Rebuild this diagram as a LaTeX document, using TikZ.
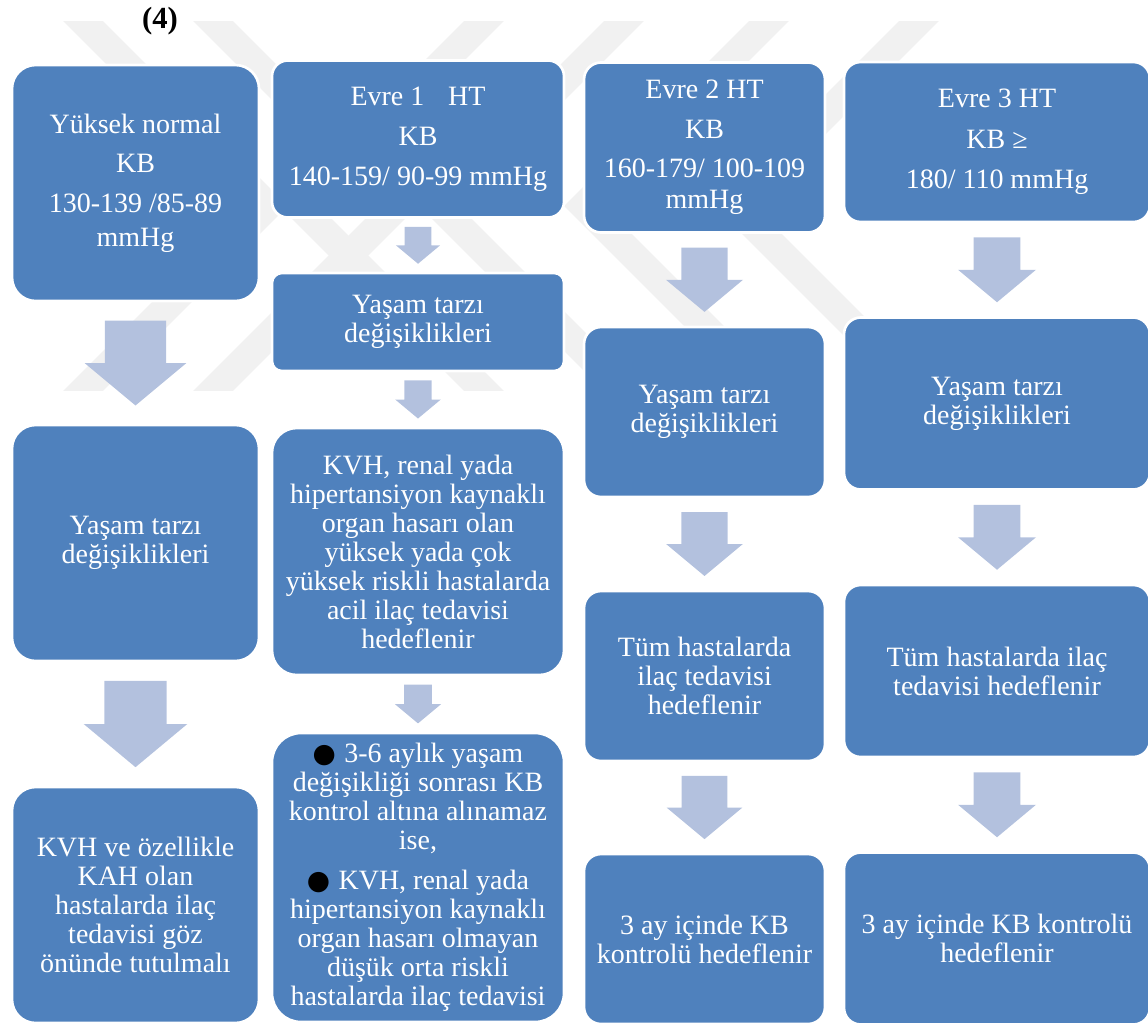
\documentclass[tikz,border=0pt]{standalone}
\usepackage{fontspec}
\setmainfont{Liberation Serif}
\newfontfamily\bulletfont{DejaVu Sans}
\usetikzlibrary{calc}

\definecolor{boxblue}{RGB}{79,129,189}
\definecolor{arrowblue}{RGB}{179,193,222}
\definecolor{markgray}{RGB}{241,241,241}

\tikzset{
  box/.style={fill=boxblue, draw=white, line width=2pt, text=white,
    align=center, inner sep=0pt, font=\fontsize{21}{21.75}\selectfont},
  colA/.style={box, minimum width=185.25pt, minimum height=177pt, rounded corners=17.7pt},
  colB/.style={box, minimum width=219pt},
  colC/.style={box, minimum width=180.75pt, minimum height=127.5pt, rounded corners=12.75pt},
  colD/.style={box, minimum width=229.5pt, minimum height=129pt, rounded corners=12.5pt},
  watermark/.style={draw=markgray, line width=21pt, miter limit=20},
}

% block arrow between two boxes of one column
\newcommand{\blockdown}[2]{%
  \fill[arrowblue] let \p1=(#1.south), \p2=(#2.north),
    \n1={\y1-\y2}, \n2={0.7*\n1} in
    (\x1-0.36*\n2,\y1-0.15*\n1) -- (\x1+0.36*\n2,\y1-0.15*\n1)
    -- (\x1+0.36*\n2,\y1-0.15*\n1-0.5*\n2) -- (\x1+0.6*\n2,\y1-0.15*\n1-0.5*\n2)
    -- (\x1,\y1-0.85*\n1) -- (\x1-0.6*\n2,\y1-0.15*\n1-0.5*\n2)
    -- (\x1-0.36*\n2,\y1-0.15*\n1-0.5*\n2) -- cycle;}

\newcommand{\blt}{{\color{black}\bulletfont\fontsize{20}{20}\selectfont ●}\hspace{0.3em}}

\begin{document}
\begin{tikzpicture}[x=0.75pt, y=-0.75pt]
\useasboundingbox (0,0) rectangle (1148,1022);

% faint watermark behind the chart
\begin{scope}
  \clip (0,21) rectangle (1148,390);
  \foreach \xa in {62,192}
    \draw[watermark] (\xa,0) -- (\xa+206,206) -- (\xa,412);
  \foreach \xa in {505,645,790,940}
    \draw[watermark] (\xa,0) -- (\xa-206,206) -- (\xa,412);
\end{scope}

\node[font=\bfseries\fontsize{23}{26}\selectfont] (baslik) at (160,21) {(4)};

% Yuksek normal
\node[colA, font=\fontsize{21}{25.5}\selectfont] (hn) at (135.5,183)
  {Yüksek normal\\[4pt] KB\\[4pt] 130-139 /85-89\\ mmHg};
\node[colA] (hnYasam) at (135.5,543) {Yaşam tarzı\\ değişiklikleri};
\node[colA] (hnIlac) at (135.5,905)
  {KVH ve özellikle\\ KAH olan\\ hastalarda ilaç\\ tedavisi göz\\ önünde tutulmalı};

% Evre 1
\node[colB, minimum height=117.75pt, rounded corners=11.8pt,
  font=\fontsize{21}{30}\selectfont] (e1) at (418,139)
  {Evre 1\hspace{0.6em} HT\\ KB\\ 140-159/ 90-99 mmHg};
\node[colB, minimum height=73.5pt, rounded corners=7.4pt] (e1Yasam) at (418,322)
  {Yaşam tarzı\\ değişiklikleri};
\node[colB, minimum height=185.25pt, rounded corners=18.5pt] (e1Acil) at (418,551.5)
  {KVH, renal yada\\ hipertansiyon kaynaklı\\ organ hasarı olan\\ yüksek yada çok\\
   yüksek riskli hastalarda\\ acil ilaç tedavisi\\ hedeflenir};
\node[colB, minimum height=216.75pt, rounded corners=21.7pt] (e1Ilac) at (418,877.5)
  {\blt 3-6 aylık yaşam\\ değişikliği sonrası KB\\ kontrol altına alınamaz\\ ise,\\[8pt]
   \blt KVH, renal yada\\ hipertansiyon kaynaklı\\ organ hasarı olmayan\\
   düşük orta riskli\\ hastalarda ilaç tedavisi};

% Evre 2
\node[colC, font=\fontsize{21}{23.25}\selectfont] (e2) at (704.5,147.5)
  {Evre 2 HT\\[6.75pt] KB\\[6pt] 160-179/ 100-109\\ mmHg};
\node[colC] (e2Yasam) at (704.5,412) {Yaşam tarzı\\ değişiklikleri};
\node[colC] (e2Ilac) at (704.5,676) {Tüm hastalarda\\ ilaç tedavisi\\ hedeflenir};
\node[colC] (e2Kontrol) at (704.5,939) {3 ay içinde KB\\ kontrolü hedeflenir};

% Evre 3
\node[colD, minimum height=120pt, font=\fontsize{21}{30.5}\selectfont] (e3) at (997,142)
  {Evre 3 HT\\ KB ≥\\ 180/ 110 mmHg};
\node[colD] (e3Yasam) at (997,403.5) {Yaşam tarzı\\ değişiklikleri};
\node[colD] (e3Ilac) at (997,671) {Tüm hastalarda ilaç\\ tedavisi hedeflenir};
\node[colD] (e3Kontrol) at (997,938.5) {3 ay içinde KB kontrolü\\ hedeflenir};

\blockdown{hn}{hnYasam}
\blockdown{hnYasam}{hnIlac}
\blockdown{e1}{e1Yasam}
\blockdown{e1Yasam}{e1Acil}
\blockdown{e1Acil}{e1Ilac}
\blockdown{e2}{e2Yasam}
\blockdown{e2Yasam}{e2Ilac}
\blockdown{e2Ilac}{e2Kontrol}
\blockdown{e3}{e3Yasam}
\blockdown{e3Yasam}{e3Ilac}
\blockdown{e3Ilac}{e3Kontrol}
\end{tikzpicture}
\end{document}
